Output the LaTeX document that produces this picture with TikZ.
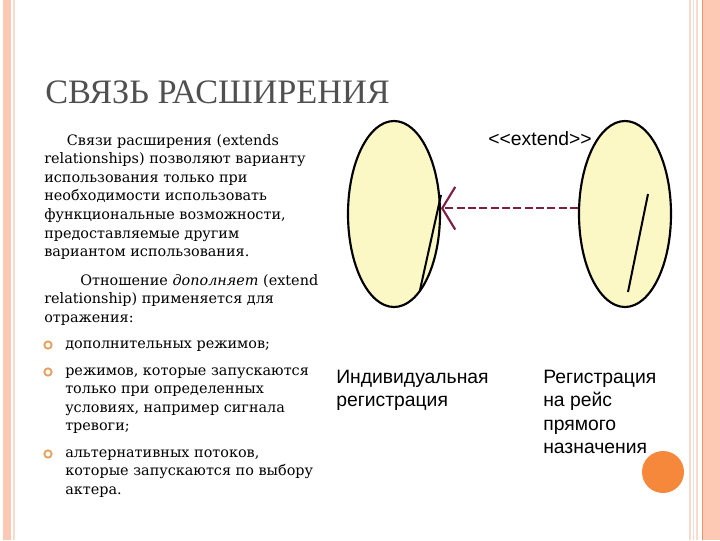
\documentclass[tikz,border=0pt]{standalone}
\usepackage{fontspec}
\setmainfont{DejaVu Serif}
\newfontfamily\titlefont{Liberation Serif}
\newfontfamily\labelfont{Liberation Sans}
\usetikzlibrary{arrows.meta}
\usetikzlibrary{shapes.geometric}
\usetikzlibrary{positioning}
\definecolor{salmon}{HTML}{FDC8B4}
\definecolor{peachline}{HTML}{F7DCCD}
\definecolor{rimorange}{HTML}{F0906A}
\definecolor{caseyellow}{HTML}{FBF8C6}
\definecolor{extmaroon}{HTML}{7E1E42}
\definecolor{dotorange}{HTML}{F5883A}
\definecolor{ringorange}{HTML}{E8A060}
\definecolor{titlegray}{HTML}{505050}
\tikzset{usecase/.style = {draw, ellipse, line width = 1.6pt, fill = caseyellow,
                           minimum width = 69pt, minimum height = 139.5pt, inner sep = 0}}
\tikzset{extend/.style = {extmaroon, line width = 1.5pt, dash pattern = on 6pt off 2.5pt,
                          -{Straight Barb[length = 9.75pt, width = 32pt, line width = 1.6pt]}}}
\tikzset{ring/.style = {draw = ringorange, fill = white, circle, line width = 1.4pt,
                        inner sep = 0, minimum size = 5.5pt}}
% base anchor of a multi-line node sits on its last line
\tikzset{body/.style = {anchor = base west, inner sep = 0, align = left,
                        font = \fontsize{10.8}{13.95}\selectfont}}
\tikzset{caselabel/.style = {anchor = base west, inner sep = 0, align = left,
                             font = \labelfont\fontsize{14.5}{17.6}\selectfont}}

\begin{document}
\begin{tikzpicture}[x = 0.75pt, y = -0.75pt]
  \useasboundingbox (0, 0) rectangle (720, 540);
  % slide frame
  \fill [salmon] (3, 0) rectangle (11, 540);
  \draw [peachline, line width = 1pt] (14, 0) -- (14, 540);
  \draw [peachline, line width = 1pt] (690, 0) -- (690, 540);
  \draw [peachline, line width = 1pt] (693.5, 0) -- (693.5, 540);
  \draw [peachline, line width = 1pt] (697, 0) -- (697, 540);
  \fill [salmon] (703, 0) rectangle (720, 540);
  \draw [rimorange, line width = 0.9pt] (702.5, 0) -- (702.5, 540);

  \node [anchor = base west, inner sep = 0, text = titlegray,
         font = \titlefont\fontsize{25.7}{30}\selectfont] (title) at (45, 103) {СВЯЗЬ РАСШИРЕНИЯ};

  % text column
  \node [body] (intro) at (44, 256.6) {\hspace*{17pt}Связи расширения (extends\\
    relationships) позволяют варианту\\
    использования только при\\
    необходимости использовать\\
    функциональные возможности,\\
    предоставляемые другим\\
    вариантом использования.};
  \node [body] (relation) at (44, 322.2) {\hspace*{27pt}Отношение \textit{дополняет} (extend\\
    relationship) применяется для\\
    отражения:};
  \node [ring] (r1) at (48, 345) {};
  \node [ring] (r2) at (48, 372) {};
  \node [ring] (r3) at (48, 454) {};
  \node [body] (b1) at (65, 348) {дополнительных режимов;};
  \node [body] (b2) at (65, 430.8) {режимов, которые запускаются\\
    только при определенных\\
    условиях, например сигнала\\
    тревоги;};
  \node [body] (b3) at (65, 494.2) {альтернативных потоков,\\
    которые запускаются по выбору\\
    актера.};

  % use cases
  \node [usecase] (indiv) at (394, 214) {};
  \node [usecase] (direct) at (625, 214) {};
  \draw [line width = 1.5pt] (441, 195) -- (420, 290);
  \draw [line width = 1.5pt] (648, 194) -- (628, 292);
  \draw [extend] (direct.173) -- (indiv.7);
  \node [font = \labelfont\fontsize{14.5}{17}\selectfont, inner sep = 0] (stereo) at (540, 139) {<{}<extend>{}>};

  \node [caselabel] (indivtext) at (336, 406.5) {Индивидуальная\\регистрация};
  \node [caselabel] (directtext) at (543, 453.5) {Регистрация\\на рейс\\прямого\\назначения};

  \node [circle, fill = dotorange, inner sep = 0, minimum size = 31.5pt] (corner) at (663, 472) {};
\end{tikzpicture}
\end{document}
